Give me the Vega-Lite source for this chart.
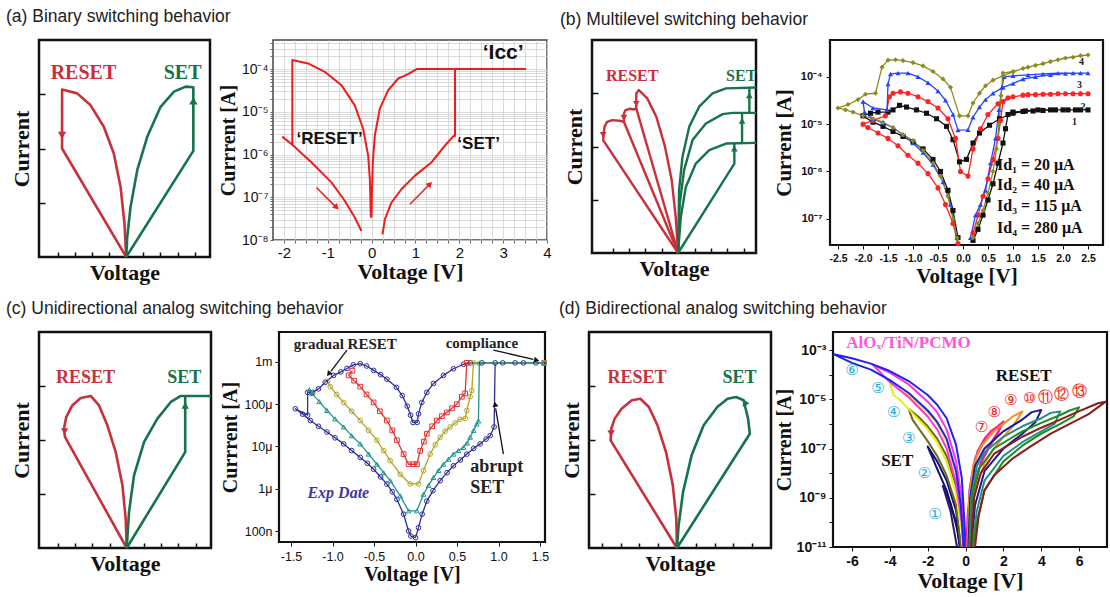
{
"$schema":"https://vega.github.io/schema/vega-lite/v6.json",
"background":"white",
"padding":{"left":6,"top":8,"right":0,"bottom":0},
"config":{"view":{"stroke":"#111","strokeWidth":2.2},"axis":{"domain":false,"labelColor":"#111","titleColor":"#111","tickColor":"#111","grid":false},"line":{"strokeJoin":"round"}},
"datasets":{
"sa_l":[
{"k":"r","c":"r","i":0,"x":0,"y":0},{"k":"r","c":"r","i":1,"x":-0.02,"y":0.154},{"k":"r","c":"r","i":2,"x":-0.066,"y":0.323},{"k":"r","c":"r","i":3,"x":-0.145,"y":0.477},{"k":"r","c":"r","i":4,"x":-0.262,"y":0.6},{"k":"r","c":"r","i":5,"x":-0.418,"y":0.7},{"k":"r","c":"r","i":6,"x":-0.574,"y":0.754},{"k":"r","c":"r","i":7,"x":-0.75,"y":0.772},{"k":"r","c":"r","i":8,"x":-0.75,"y":0.5},{"k":"r","c":"r","i":9,"x":0,"y":0},
{"k":"g","c":"g","i":0,"x":0,"y":0},{"k":"g","c":"g","i":1,"x":0.785,"y":0.489},{"k":"g","c":"g","i":2,"x":0.785,"y":0.782},{"k":"g","c":"g","i":3,"x":0.695,"y":0.785},{"k":"g","c":"g","i":4,"x":0.559,"y":0.762},{"k":"g","c":"g","i":5,"x":0.402,"y":0.692},{"k":"g","c":"g","i":6,"x":0.246,"y":0.554},{"k":"g","c":"g","i":7,"x":0.129,"y":0.4},{"k":"g","c":"g","i":8,"x":0.051,"y":0.231},{"k":"g","c":"g","i":9,"x":0.012,"y":0.092},{"k":"g","c":"g","i":10,"x":0,"y":0}],
"sa_a":[{"c":"r","x":-0.75,"y":0.56,"a":180},{"c":"g","x":0.785,"y":0.72,"a":0}],
"sa_t":[{"c":"r","x":-0.5,"y":0.85,"t":"RESET"},{"c":"g","x":0.66,"y":0.85,"t":"SET"}],
"sb_l":[
{"k":"r1","c":"r","i":0,"x":0,"y":0},{"k":"r1","c":"r","i":1,"x":-0.029,"y":0.169},{"k":"r1","c":"r","i":2,"x":-0.078,"y":0.342},{"k":"r1","c":"r","i":3,"x":-0.159,"y":0.498},{"k":"r1","c":"r","i":4,"x":-0.265,"y":0.639},{"k":"r1","c":"r","i":5,"x":-0.376,"y":0.726},{"k":"r1","c":"r","i":6,"x":-0.478,"y":0.765},{"k":"r1","c":"r","i":7,"x":-0.51,"y":0.749},{"k":"r1","c":"r","i":8,"x":-0.51,"y":0.679},{"k":"r1","c":"r","i":9,"x":-0.539,"y":0.674},{"k":"r1","c":"r","i":10,"x":-0.592,"y":0.677},{"k":"r1","c":"r","i":11,"x":-0.641,"y":0.671},{"k":"r1","c":"r","i":12,"x":-0.661,"y":0.655},{"k":"r1","c":"r","i":13,"x":-0.661,"y":0.616},{"k":"r1","c":"r","i":14,"x":-0.714,"y":0.621},{"k":"r1","c":"r","i":15,"x":-0.804,"y":0.624},{"k":"r1","c":"r","i":16,"x":-0.865,"y":0.616},{"k":"r1","c":"r","i":17,"x":-0.898,"y":0.592},{"k":"r1","c":"r","i":18,"x":-0.914,"y":0.53},{"k":"r1","c":"r","i":19,"x":0,"y":0},
{"k":"r2","c":"r","i":0,"x":0,"y":0},{"k":"r2","c":"r","i":1,"x":-0.51,"y":0.679},
{"k":"r3","c":"r","i":0,"x":0,"y":0},{"k":"r3","c":"r","i":1,"x":-0.661,"y":0.616},
{"k":"g0","c":"g","i":0,"x":0,"y":0},{"k":"g0","c":"g","i":1,"x":0.686,"y":0.42},{"k":"g0","c":"g","i":2,"x":0.686,"y":0.517},
{"k":"g1","c":"g","i":0,"x":0,"y":0},{"k":"g1","c":"g","i":1,"x":0.033,"y":0.169},{"k":"g1","c":"g","i":2,"x":0.094,"y":0.31},{"k":"g1","c":"g","i":3,"x":0.216,"y":0.42},{"k":"g1","c":"g","i":4,"x":0.38,"y":0.483},{"k":"g1","c":"g","i":5,"x":0.584,"y":0.514},{"k":"g1","c":"g","i":6,"x":0.951,"y":0.517},
{"k":"g2v","c":"g","i":0,"x":0.78,"y":0.517},{"k":"g2v","c":"g","i":1,"x":0.78,"y":0.658},
{"k":"g2","c":"g","i":0,"x":0,"y":0},{"k":"g2","c":"g","i":1,"x":0.02,"y":0.232},{"k":"g2","c":"g","i":2,"x":0.073,"y":0.389},{"k":"g2","c":"g","i":3,"x":0.176,"y":0.53},{"k":"g2","c":"g","i":4,"x":0.339,"y":0.608},{"k":"g2","c":"g","i":5,"x":0.543,"y":0.652},{"k":"g2","c":"g","i":6,"x":0.665,"y":0.658},{"k":"g2","c":"g","i":7,"x":0.951,"y":0.658},
{"k":"g3v","c":"g","i":0,"x":0.869,"y":0.658},{"k":"g3v","c":"g","i":1,"x":0.869,"y":0.777},
{"k":"g3","c":"g","i":0,"x":0,"y":0},{"k":"g3","c":"g","i":1,"x":0.012,"y":0.295},{"k":"g3","c":"g","i":2,"x":0.053,"y":0.451},{"k":"g3","c":"g","i":3,"x":0.135,"y":0.592},{"k":"g3","c":"g","i":4,"x":0.257,"y":0.687},{"k":"g3","c":"g","i":5,"x":0.42,"y":0.749},{"k":"g3","c":"g","i":6,"x":0.584,"y":0.773},{"k":"g3","c":"g","i":7,"x":0.951,"y":0.777}],
"sb_a":[{"c":"r","x":-0.51,"y":0.7,"a":180},{"c":"r","x":-0.661,"y":0.635,"a":180},{"c":"r","x":-0.914,"y":0.555,"a":180},{"c":"g","x":0.686,"y":0.49,"a":0},{"c":"g","x":0.78,"y":0.62,"a":0},{"c":"g","x":0.869,"y":0.74,"a":0}],
"sb_t":[{"c":"r","x":-0.56,"y":0.83,"t":"RESET"},{"c":"g","x":0.77,"y":0.83,"t":"SET"}],
"sc_l":[
{"k":"r","c":"r","i":0,"x":0,"y":0},{"k":"r","c":"r","i":1,"x":-0.012,"y":0.136},{"k":"r","c":"r","i":2,"x":-0.05,"y":0.29},{"k":"r","c":"r","i":3,"x":-0.128,"y":0.444},{"k":"r","c":"r","i":4,"x":-0.225,"y":0.568},{"k":"r","c":"r","i":5,"x":-0.322,"y":0.66},{"k":"r","c":"r","i":6,"x":-0.419,"y":0.704},{"k":"r","c":"r","i":7,"x":-0.536,"y":0.694},{"k":"r","c":"r","i":8,"x":-0.633,"y":0.66},{"k":"r","c":"r","i":9,"x":-0.703,"y":0.606},{"k":"r","c":"r","i":10,"x":-0.73,"y":0.552},{"k":"r","c":"r","i":11,"x":-0.718,"y":0.514},{"k":"r","c":"r","i":12,"x":0,"y":0},
{"k":"g","c":"g","i":0,"x":0,"y":0},{"k":"g","c":"g","i":1,"x":0.68,"y":0.444},{"k":"g","c":"g","i":2,"x":0.68,"y":0.704},
{"k":"g2","c":"g","i":0,"x":0,"y":0},{"k":"g2","c":"g","i":1,"x":0.027,"y":0.167},{"k":"g2","c":"g","i":2,"x":0.085,"y":0.336},{"k":"g2","c":"g","i":3,"x":0.202,"y":0.491},{"k":"g2","c":"g","i":4,"x":0.357,"y":0.599},{"k":"g2","c":"g","i":5,"x":0.513,"y":0.676},{"k":"g2","c":"g","i":6,"x":0.629,"y":0.704},{"k":"g2","c":"g","i":7,"x":0.979,"y":0.704}],
"sc_a":[{"c":"r","x":-0.722,"y":0.54,"a":180},{"c":"g","x":0.68,"y":0.66,"a":0}],
"sc_t":[{"c":"r","x":-0.48,"y":0.785,"t":"RESET"},{"c":"g","x":0.67,"y":0.785,"t":"SET"}],
"sd_l":[
{"k":"r","c":"r","i":0,"x":0,"y":0},{"k":"r","c":"r","i":1,"x":-0.007,"y":0.136},{"k":"r","c":"r","i":2,"x":-0.044,"y":0.29},{"k":"r","c":"r","i":3,"x":-0.116,"y":0.444},{"k":"r","c":"r","i":4,"x":-0.207,"y":0.568},{"k":"r","c":"r","i":5,"x":-0.298,"y":0.653},{"k":"r","c":"r","i":6,"x":-0.389,"y":0.691},{"k":"r","c":"r","i":7,"x":-0.48,"y":0.684},{"k":"r","c":"r","i":8,"x":-0.589,"y":0.645},{"k":"r","c":"r","i":9,"x":-0.662,"y":0.599},{"k":"r","c":"r","i":10,"x":-0.698,"y":0.552},{"k":"r","c":"r","i":11,"x":-0.705,"y":0.498},{"k":"r","c":"r","i":12,"x":0,"y":0},
{"k":"g","c":"g","i":0,"x":0,"y":0},{"k":"g","c":"g","i":1,"x":0.775,"y":0.529},{"k":"g","c":"g","i":2,"x":0.756,"y":0.599},{"k":"g","c":"g","i":3,"x":0.709,"y":0.684},{"k":"g","c":"g","i":4,"x":0.629,"y":0.699},{"k":"g","c":"g","i":5,"x":0.538,"y":0.691},{"k":"g","c":"g","i":6,"x":0.429,"y":0.653},{"k":"g","c":"g","i":7,"x":0.284,"y":0.568},{"k":"g","c":"g","i":8,"x":0.156,"y":0.429},{"k":"g","c":"g","i":9,"x":0.065,"y":0.259},{"k":"g","c":"g","i":10,"x":0.018,"y":0.105},{"k":"g","c":"g","i":11,"x":0,"y":0}],
"sd_a":[{"c":"r","x":-0.7,"y":0.53,"a":180},{"c":"g","x":0.72,"y":0.675,"a":-25}],
"sd_t":[{"c":"r","x":-0.425,"y":0.785,"t":"RESET"},{"c":"g","x":0.665,"y":0.785,"t":"SET"}],
"pa":[
{"i":0,"x":0.248,"y":1.36e-8},{"i":1,"x":0.302,"y":3.06e-8},{"i":2,"x":0.454,"y":7.55e-8},{"i":3,"x":0.683,"y":1.56e-7},{"i":4,"x":0.988,"y":3.21e-7},{"i":5,"x":1.369,"y":6.61e-7},{"i":6,"x":1.674,"y":1.63e-6},{"i":7,"x":1.864,"y":2.7e-6},{"i":8,"x":1.902,"y":2.7e-6},{"i":9,"x":1.902,"y":1e-4},{"i":10,"x":3.503,"y":1e-4},{"i":11,"x":1.026,"y":1e-4},{"i":12,"x":0.82,"y":7.5e-5},{"i":13,"x":0.607,"y":6.03e-5},{"i":14,"x":0.378,"y":3.21e-5},{"i":15,"x":0.187,"y":1.19e-5},{"i":16,"x":0.073,"y":2.8e-6},{"i":17,"x":0.027,"y":6.61e-7},{"i":18,"x":0.005,"y":1.08e-7},{"i":19,"x":-0.003,"y":3.5e-8},{"i":20,"x":-0.018,"y":3.5e-8},{"i":21,"x":-0.041,"y":2.67e-7},{"i":22,"x":-0.079,"y":9.46e-7},{"i":23,"x":-0.194,"y":4.02e-6},{"i":24,"x":-0.384,"y":1.42e-5},{"i":25,"x":-0.689,"y":4.21e-5},{"i":26,"x":-1.07,"y":8.65e-5},{"i":27,"x":-1.451,"y":1.36e-4},{"i":28,"x":-1.809,"y":1.63e-4},{"i":29,"x":-1.809,"y":1.69e-6},{"i":30,"x":-2.023,"y":2.56e-6},{"i":31,"x":-1.809,"y":1.69e-6},{"i":32,"x":-1.375,"y":6.61e-7},{"i":33,"x":-0.918,"y":2.23e-7},{"i":34,"x":-0.613,"y":8.28e-8},{"i":35,"x":-0.384,"y":3.35e-8},{"i":36,"x":-0.232,"y":1.63e-8}],
"pb":[
{"s":"1","i":0,"x":0.2,"y":3.5e-8},{"s":"1","i":1,"x":0.3,"y":6e-8},{"s":"1","i":2,"x":0.4,"y":1.2e-7},{"s":"1","i":3,"x":0.5,"y":2.5e-7},{"s":"1","i":4,"x":0.6,"y":5.5e-7},{"s":"1","i":5,"x":0.7,"y":1.5e-6},{"s":"1","i":6,"x":0.8,"y":4e-6},{"s":"1","i":7,"x":0.85,"y":8e-6},{"s":"1","i":8,"x":0.9,"y":1.6e-5},{"s":"1","i":9,"x":1.0,"y":1.8e-5},{"s":"1","i":10,"x":1.25,"y":1.9e-5},{"s":"1","i":11,"x":1.5,"y":2e-5},{"s":"1","i":12,"x":1.75,"y":2e-5},{"s":"1","i":13,"x":2.0,"y":2e-5},{"s":"1","i":14,"x":2.25,"y":2e-5},{"s":"1","i":15,"x":2.5,"y":2e-5},{"s":"1","i":16,"x":2.35,"y":2e-5},{"s":"1","i":17,"x":2.1,"y":2e-5},{"s":"1","i":18,"x":1.85,"y":2e-5},{"s":"1","i":19,"x":1.6,"y":1.95e-5},{"s":"1","i":20,"x":1.4,"y":1.9e-5},{"s":"1","i":21,"x":1.2,"y":1.85e-5},{"s":"1","i":22,"x":1.0,"y":1.7e-5},{"s":"1","i":23,"x":0.73,"y":1.3e-5},{"s":"1","i":24,"x":0.53,"y":9.5e-6},{"s":"1","i":25,"x":0.33,"y":6.5e-6},{"s":"1","i":26,"x":0.2,"y":4e-6},{"s":"1","i":27,"x":0.07,"y":1.8e-6},{"s":"1","i":28,"x":-0.07,"y":1.6e-6},{"s":"1","i":29,"x":-0.2,"y":4.7e-6},{"s":"1","i":30,"x":-0.33,"y":9e-6},{"s":"1","i":31,"x":-0.53,"y":1.3e-5},{"s":"1","i":32,"x":-0.73,"y":1.7e-5},{"s":"1","i":33,"x":-0.93,"y":2e-5},{"s":"1","i":34,"x":-1.13,"y":2.3e-5},{"s":"1","i":35,"x":-1.27,"y":2.5e-5},{"s":"1","i":36,"x":-1.4,"y":2e-5},{"s":"1","i":37,"x":-1.5,"y":1.8e-5},{"s":"1","i":38,"x":-1.7,"y":1.8e-5},{"s":"1","i":39,"x":-1.85,"y":1.7e-5},{"s":"1","i":40,"x":-2.0,"y":1.5e-5},{"s":"1","i":41,"x":-1.8,"y":1.1e-5},{"s":"1","i":42,"x":-1.6,"y":9e-6},{"s":"1","i":43,"x":-1.4,"y":7e-6},{"s":"1","i":44,"x":-1.2,"y":5.5e-6},{"s":"1","i":45,"x":-1.0,"y":4.2e-6},{"s":"1","i":46,"x":-0.8,"y":3e-6},{"s":"1","i":47,"x":-0.6,"y":1.8e-6},{"s":"1","i":48,"x":-0.45,"y":1e-6},{"s":"1","i":49,"x":-0.3,"y":4e-7},{"s":"1","i":50,"x":-0.2,"y":1.5e-7},{"s":"1","i":51,"x":-0.1,"y":4e-8},
{"s":"2","i":0,"x":0.2,"y":5e-8},{"s":"2","i":1,"x":0.3,"y":1.2e-7},{"s":"2","i":2,"x":0.4,"y":3e-7},{"s":"2","i":3,"x":0.5,"y":7e-7},{"s":"2","i":4,"x":0.6,"y":1.8e-6},{"s":"2","i":5,"x":0.7,"y":5e-6},{"s":"2","i":6,"x":0.75,"y":1.2e-5},{"s":"2","i":7,"x":0.8,"y":3e-5},{"s":"2","i":8,"x":1.0,"y":3.8e-5},{"s":"2","i":9,"x":1.3,"y":4.2e-5},{"s":"2","i":10,"x":1.6,"y":4.3e-5},{"s":"2","i":11,"x":1.9,"y":4.4e-5},{"s":"2","i":12,"x":2.2,"y":4.4e-5},{"s":"2","i":13,"x":2.5,"y":4.4e-5},{"s":"2","i":14,"x":2.35,"y":4.4e-5},{"s":"2","i":15,"x":2.05,"y":4.4e-5},{"s":"2","i":16,"x":1.75,"y":4.3e-5},{"s":"2","i":17,"x":1.45,"y":4.2e-5},{"s":"2","i":18,"x":1.2,"y":4.1e-5},{"s":"2","i":19,"x":0.9,"y":3.6e-5},{"s":"2","i":20,"x":0.7,"y":2.7e-5},{"s":"2","i":21,"x":0.5,"y":1.6e-5},{"s":"2","i":22,"x":0.35,"y":8e-6},{"s":"2","i":23,"x":0.2,"y":3e-6},{"s":"2","i":24,"x":0.1,"y":8e-7},{"s":"2","i":25,"x":-0.05,"y":1e-6},{"s":"2","i":26,"x":-0.15,"y":5e-6},{"s":"2","i":27,"x":-0.3,"y":1.3e-5},{"s":"2","i":28,"x":-0.5,"y":2.2e-5},{"s":"2","i":29,"x":-0.7,"y":3e-5},{"s":"2","i":30,"x":-0.9,"y":3.8e-5},{"s":"2","i":31,"x":-1.1,"y":4.5e-5},{"s":"2","i":32,"x":-1.25,"y":4.8e-5},{"s":"2","i":33,"x":-1.4,"y":4.5e-5},{"s":"2","i":34,"x":-1.47,"y":3.8e-5},{"s":"2","i":35,"x":-1.55,"y":1.5e-5},{"s":"2","i":36,"x":-1.8,"y":1.2e-5},{"s":"2","i":37,"x":-2.0,"y":1e-5},{"s":"2","i":38,"x":-1.9,"y":8.5e-6},{"s":"2","i":39,"x":-1.7,"y":6.5e-6},{"s":"2","i":40,"x":-1.5,"y":5e-6},{"s":"2","i":41,"x":-1.3,"y":3.5e-6},{"s":"2","i":42,"x":-1.1,"y":2.2e-6},{"s":"2","i":43,"x":-0.9,"y":1.5e-6},{"s":"2","i":44,"x":-0.7,"y":9e-7},{"s":"2","i":45,"x":-0.5,"y":4.5e-7},{"s":"2","i":46,"x":-0.35,"y":2e-7},{"s":"2","i":47,"x":-0.2,"y":8e-8},{"s":"2","i":48,"x":-0.1,"y":3e-8},
{"s":"3","i":0,"x":0.15,"y":4e-8},{"s":"3","i":1,"x":0.25,"y":1.2e-7},{"s":"3","i":2,"x":0.35,"y":2e-7},{"s":"3","i":3,"x":0.45,"y":4e-7},{"s":"3","i":4,"x":0.55,"y":1.5e-6},{"s":"3","i":5,"x":0.65,"y":5e-6},{"s":"3","i":6,"x":0.72,"y":2e-5},{"s":"3","i":7,"x":0.78,"y":6e-5},{"s":"3","i":8,"x":0.82,"y":1e-4},{"s":"3","i":9,"x":1.0,"y":1.05e-4},{"s":"3","i":10,"x":1.3,"y":1.1e-4},{"s":"3","i":11,"x":1.6,"y":1.15e-4},{"s":"3","i":12,"x":1.9,"y":1.2e-4},{"s":"3","i":13,"x":2.2,"y":1.2e-4},{"s":"3","i":14,"x":2.5,"y":1.2e-4},{"s":"3","i":15,"x":2.35,"y":1.2e-4},{"s":"3","i":16,"x":2.05,"y":1.18e-4},{"s":"3","i":17,"x":1.75,"y":1.1e-4},{"s":"3","i":18,"x":1.45,"y":1e-4},{"s":"3","i":19,"x":1.2,"y":9e-5},{"s":"3","i":20,"x":1.0,"y":7.2e-5},{"s":"3","i":21,"x":0.8,"y":6e-5},{"s":"3","i":22,"x":0.6,"y":4.5e-5},{"s":"3","i":23,"x":0.45,"y":3.3e-5},{"s":"3","i":24,"x":0.33,"y":2.3e-5},{"s":"3","i":25,"x":0.2,"y":1.4e-5},{"s":"3","i":26,"x":0.1,"y":7.6e-6},{"s":"3","i":27,"x":-0.1,"y":7.5e-6},{"s":"3","i":28,"x":-0.2,"y":1.6e-5},{"s":"3","i":29,"x":-0.35,"y":3.2e-5},{"s":"3","i":30,"x":-0.5,"y":5e-5},{"s":"3","i":31,"x":-0.7,"y":7.5e-5},{"s":"3","i":32,"x":-0.9,"y":1e-4},{"s":"3","i":33,"x":-1.1,"y":1.2e-4},{"s":"3","i":34,"x":-1.3,"y":1.2e-4},{"s":"3","i":35,"x":-1.45,"y":1.15e-4},{"s":"3","i":36,"x":-1.5,"y":7e-5},{"s":"3","i":37,"x":-1.52,"y":2e-5},{"s":"3","i":38,"x":-1.8,"y":2.2e-5},{"s":"3","i":39,"x":-2.0,"y":3e-5},{"s":"3","i":40,"x":-1.97,"y":1.8e-5},{"s":"3","i":41,"x":-1.8,"y":1.3e-5},{"s":"3","i":42,"x":-1.6,"y":1.05e-5},{"s":"3","i":43,"x":-1.4,"y":8.5e-6},{"s":"3","i":44,"x":-1.2,"y":6e-6},{"s":"3","i":45,"x":-1.0,"y":4e-6},{"s":"3","i":46,"x":-0.8,"y":2.5e-6},{"s":"3","i":47,"x":-0.6,"y":1.4e-6},{"s":"3","i":48,"x":-0.4,"y":6e-7},{"s":"3","i":49,"x":-0.25,"y":2e-7},{"s":"3","i":50,"x":-0.12,"y":4e-8},
{"s":"4","i":0,"x":0.2,"y":4e-8},{"s":"4","i":1,"x":0.3,"y":8e-8},{"s":"4","i":2,"x":0.4,"y":1.5e-7},{"s":"4","i":3,"x":0.5,"y":3.5e-7},{"s":"4","i":4,"x":0.6,"y":1e-6},{"s":"4","i":5,"x":0.67,"y":3e-6},{"s":"4","i":6,"x":0.72,"y":1e-5},{"s":"4","i":7,"x":0.76,"y":4e-5},{"s":"4","i":8,"x":0.8,"y":1.2e-4},{"s":"4","i":9,"x":1.0,"y":1.3e-4},{"s":"4","i":10,"x":1.3,"y":1.6e-4},{"s":"4","i":11,"x":1.6,"y":1.9e-4},{"s":"4","i":12,"x":1.9,"y":2.3e-4},{"s":"4","i":13,"x":2.2,"y":2.6e-4},{"s":"4","i":14,"x":2.5,"y":2.9e-4},{"s":"4","i":15,"x":2.35,"y":2.8e-4},{"s":"4","i":16,"x":2.05,"y":2.5e-4},{"s":"4","i":17,"x":1.75,"y":2.1e-4},{"s":"4","i":18,"x":1.45,"y":1.75e-4},{"s":"4","i":19,"x":1.2,"y":1.5e-4},{"s":"4","i":20,"x":1.0,"y":1.27e-4},{"s":"4","i":21,"x":0.8,"y":1.05e-4},{"s":"4","i":22,"x":0.6,"y":8.5e-5},{"s":"4","i":23,"x":0.45,"y":6.5e-5},{"s":"4","i":24,"x":0.33,"y":4.5e-5},{"s":"4","i":25,"x":0.2,"y":2.8e-5},{"s":"4","i":26,"x":0.1,"y":1.5e-5},{"s":"4","i":27,"x":-0.07,"y":1.5e-5},{"s":"4","i":28,"x":-0.25,"y":6e-5},{"s":"4","i":29,"x":-0.4,"y":9e-5},{"s":"4","i":30,"x":-0.6,"y":1.3e-4},{"s":"4","i":31,"x":-0.8,"y":1.7e-4},{"s":"4","i":32,"x":-1.0,"y":2e-4},{"s":"4","i":33,"x":-1.2,"y":2.2e-4},{"s":"4","i":34,"x":-1.35,"y":2.3e-4},{"s":"4","i":35,"x":-1.5,"y":2.25e-4},{"s":"4","i":36,"x":-1.62,"y":1.6e-4},{"s":"4","i":37,"x":-1.75,"y":4.5e-5},{"s":"4","i":38,"x":-1.95,"y":4.3e-5},{"s":"4","i":39,"x":-2.1,"y":3.3e-5},{"s":"4","i":40,"x":-2.3,"y":2.6e-5},{"s":"4","i":41,"x":-2.5,"y":2.2e-5},{"s":"4","i":42,"x":-2.35,"y":2e-5},{"s":"4","i":43,"x":-2.2,"y":1.8e-5},{"s":"4","i":44,"x":-2.0,"y":1.5e-5},{"s":"4","i":45,"x":-1.8,"y":1.3e-5},{"s":"4","i":46,"x":-1.6,"y":1.1e-5},{"s":"4","i":47,"x":-1.4,"y":8.5e-6},{"s":"4","i":48,"x":-1.2,"y":6e-6},{"s":"4","i":49,"x":-1.0,"y":4.5e-6},{"s":"4","i":50,"x":-0.8,"y":2.8e-6},{"s":"4","i":51,"x":-0.6,"y":1.5e-6},{"s":"4","i":52,"x":-0.45,"y":8e-7},{"s":"4","i":53,"x":-0.3,"y":3e-7},{"s":"4","i":54,"x":-0.2,"y":1e-7},{"s":"4","i":55,"x":-0.12,"y":4e-8}],
"pc":[
{"s":"N","i":0,"x":1.55,"y":9.5e-4},{"s":"N","i":1,"x":1.3,"y":9.5e-4},{"s":"N","i":2,"x":1.05,"y":9.5e-4},{"s":"N","i":3,"x":0.8,"y":9.5e-4},{"s":"N","i":4,"x":0.66,"y":9.5e-4},{"s":"N","i":5,"x":0.578,"y":8.8e-4},{"s":"N","i":6,"x":0.457,"y":6.9e-4},{"s":"N","i":7,"x":0.337,"y":4.8e-4},{"s":"N","i":8,"x":0.217,"y":3.1e-4},{"s":"N","i":9,"x":0.136,"y":1.9e-4},{"s":"N","i":10,"x":0.076,"y":1.1e-4},{"s":"N","i":11,"x":0.036,"y":5.9e-5},{"s":"N","i":12,"x":0.02,"y":3.7e-5},{"s":"N","i":13,"x":-0.03,"y":3.7e-5},{"s":"N","i":14,"x":-0.06,"y":5.5e-5},{"s":"N","i":15,"x":-0.1,"y":9e-5},{"s":"N","i":16,"x":-0.16,"y":1.6e-4},{"s":"N","i":17,"x":-0.23,"y":2.5e-4},{"s":"N","i":18,"x":-0.345,"y":3.9e-4},{"s":"N","i":19,"x":-0.42,"y":5e-4},{"s":"N","i":20,"x":-0.505,"y":6.3e-4},{"s":"N","i":21,"x":-0.59,"y":8e-4},{"s":"N","i":22,"x":-0.666,"y":9.1e-4},{"s":"N","i":23,"x":-0.75,"y":8.5e-4},{"s":"N","i":24,"x":-0.826,"y":7e-4},{"s":"N","i":25,"x":-0.9,"y":5.8e-4},{"s":"N","i":26,"x":-0.987,"y":4.8e-4},{"s":"N","i":27,"x":-1.087,"y":3.3e-4},{"s":"N","i":28,"x":-1.17,"y":2.3e-4},{"s":"N","i":29,"x":-1.24,"y":1.9e-4},{"s":"N","i":30,"x":-1.3,"y":1.9e-4},{"s":"N","i":31,"x":-1.3,"y":5.5e-5},{"s":"N","i":32,"x":-1.448,"y":7.8e-5},{"s":"N","i":33,"x":-1.36,"y":5.8e-5},{"s":"N","i":34,"x":-1.267,"y":4.1e-5},{"s":"N","i":35,"x":-1.17,"y":3e-5},{"s":"N","i":36,"x":-1.067,"y":2.2e-5},{"s":"N","i":37,"x":-0.97,"y":1.6e-5},{"s":"N","i":38,"x":-0.866,"y":1.15e-5},{"s":"N","i":39,"x":-0.77,"y":8e-6},{"s":"N","i":40,"x":-0.666,"y":5.5e-6},{"s":"N","i":41,"x":-0.58,"y":4e-6},{"s":"N","i":42,"x":-0.505,"y":2.9e-6},{"s":"N","i":43,"x":-0.42,"y":1.9e-6},{"s":"N","i":44,"x":-0.345,"y":1.29e-6},{"s":"N","i":45,"x":-0.28,"y":8.5e-7},{"s":"N","i":46,"x":-0.224,"y":5.6e-7},{"s":"N","i":47,"x":-0.144,"y":2.5e-7},{"s":"N","i":48,"x":-0.084,"y":1e-7},{"s":"N","i":49,"x":-0.056,"y":7.6e-8},{"s":"N","i":50,"x":0.0,"y":7e-8},{"s":"N","i":51,"x":0.036,"y":1.2e-7},{"s":"N","i":52,"x":0.08,"y":2.5e-7},{"s":"N","i":53,"x":0.136,"y":5.1e-7},{"s":"N","i":54,"x":0.21,"y":9e-7},{"s":"N","i":55,"x":0.297,"y":1.55e-6},{"s":"N","i":56,"x":0.38,"y":2.4e-6},{"s":"N","i":57,"x":0.457,"y":3.5e-6},{"s":"N","i":58,"x":0.54,"y":4.8e-6},{"s":"N","i":59,"x":0.618,"y":6.6e-6},{"s":"N","i":60,"x":0.7,"y":9e-6},{"s":"N","i":61,"x":0.778,"y":1.15e-5},{"s":"N","i":62,"x":0.85,"y":1.5e-5},{"s":"N","i":63,"x":0.899,"y":1.8e-5},{"s":"N","i":64,"x":0.947,"y":2.9e-5},{"s":"N","i":65,"x":0.959,"y":9.5e-4},{"s":"N","i":66,"x":1.2,"y":9.5e-4},{"s":"N","i":67,"x":1.45,"y":9.5e-4},
{"s":"R","i":0,"x":-0.76,"y":6.2e-4},{"s":"R","i":1,"x":-0.806,"y":4.8e-4},{"s":"R","i":2,"x":-0.74,"y":3.6e-4},{"s":"R","i":3,"x":-0.666,"y":2.6e-4},{"s":"R","i":4,"x":-0.59,"y":1.7e-4},{"s":"R","i":5,"x":-0.505,"y":1.1e-4},{"s":"R","i":6,"x":-0.43,"y":6.8e-5},{"s":"R","i":7,"x":-0.345,"y":4.1e-5},{"s":"R","i":8,"x":-0.28,"y":2.4e-5},{"s":"R","i":9,"x":-0.224,"y":1.4e-5},{"s":"R","i":10,"x":-0.144,"y":6.6e-6},{"s":"R","i":11,"x":-0.084,"y":3.8e-6},{"s":"R","i":12,"x":-0.024,"y":3.8e-6},{"s":"R","i":13,"x":0.016,"y":3.8e-6},{"s":"R","i":14,"x":0.056,"y":7.9e-6},{"s":"R","i":15,"x":0.1,"y":1.3e-5},{"s":"R","i":16,"x":0.136,"y":2e-5},{"s":"R","i":17,"x":0.2,"y":3e-5},{"s":"R","i":18,"x":0.257,"y":4.1e-5},{"s":"R","i":19,"x":0.317,"y":5.2e-5},{"s":"R","i":20,"x":0.377,"y":6.4e-5},{"s":"R","i":21,"x":0.44,"y":8e-5},{"s":"R","i":22,"x":0.497,"y":1e-4},{"s":"R","i":23,"x":0.558,"y":1.5e-4},{"s":"R","i":24,"x":0.598,"y":1.8e-4},{"s":"R","i":25,"x":0.618,"y":9.5e-4},{"s":"R","i":26,"x":1.55,"y":9.5e-4},
{"s":"Y","i":0,"x":-1.06,"y":3.5e-4},{"s":"Y","i":1,"x":-1.027,"y":2.6e-4},{"s":"Y","i":2,"x":-0.95,"y":1.7e-4},{"s":"Y","i":3,"x":-0.866,"y":1.1e-4},{"s":"Y","i":4,"x":-0.77,"y":6.8e-5},{"s":"Y","i":5,"x":-0.666,"y":4.1e-5},{"s":"Y","i":6,"x":-0.565,"y":2.4e-5},{"s":"Y","i":7,"x":-0.465,"y":1.4e-5},{"s":"Y","i":8,"x":-0.385,"y":8e-6},{"s":"Y","i":9,"x":-0.305,"y":4.6e-6},{"s":"Y","i":10,"x":-0.184,"y":2.2e-6},{"s":"Y","i":11,"x":-0.064,"y":1.3e-6},{"s":"Y","i":12,"x":0.036,"y":1.3e-6},{"s":"Y","i":13,"x":0.096,"y":2.7e-6},{"s":"Y","i":14,"x":0.176,"y":6.6e-6},{"s":"Y","i":15,"x":0.237,"y":1.1e-5},{"s":"Y","i":16,"x":0.297,"y":1.65e-5},{"s":"Y","i":17,"x":0.357,"y":2.3e-5},{"s":"Y","i":18,"x":0.417,"y":2.9e-5},{"s":"Y","i":19,"x":0.477,"y":3.6e-5},{"s":"Y","i":20,"x":0.537,"y":4.4e-5},{"s":"Y","i":21,"x":0.6,"y":4.6e-5},{"s":"Y","i":22,"x":0.618,"y":7.1e-5},{"s":"Y","i":23,"x":0.658,"y":1.5e-4},{"s":"Y","i":24,"x":0.678,"y":2.1e-4},{"s":"Y","i":25,"x":0.698,"y":9.5e-4},{"s":"Y","i":26,"x":1.55,"y":9.5e-4},
{"s":"T","i":0,"x":-1.28,"y":2.2e-4},{"s":"T","i":1,"x":-1.247,"y":1.8e-4},{"s":"T","i":2,"x":-1.16,"y":1.15e-4},{"s":"T","i":3,"x":-1.067,"y":7.1e-5},{"s":"T","i":4,"x":-0.97,"y":4.5e-5},{"s":"T","i":5,"x":-0.866,"y":2.9e-5},{"s":"T","i":6,"x":-0.77,"y":1.8e-5},{"s":"T","i":7,"x":-0.666,"y":1.15e-5},{"s":"T","i":8,"x":-0.565,"y":6.6e-6},{"s":"T","i":9,"x":-0.465,"y":3.8e-6},{"s":"T","i":10,"x":-0.385,"y":2.4e-6},{"s":"T","i":11,"x":-0.305,"y":1.55e-6},{"s":"T","i":12,"x":-0.184,"y":6.8e-7},{"s":"T","i":13,"x":-0.084,"y":3e-7},{"s":"T","i":14,"x":0.016,"y":3e-7},{"s":"T","i":15,"x":0.096,"y":7.4e-7},{"s":"T","i":16,"x":0.157,"y":1.2e-6},{"s":"T","i":17,"x":0.217,"y":1.85e-6},{"s":"T","i":18,"x":0.277,"y":2.7e-6},{"s":"T","i":19,"x":0.337,"y":3.8e-6},{"s":"T","i":20,"x":0.397,"y":5e-6},{"s":"T","i":21,"x":0.457,"y":6.6e-6},{"s":"T","i":22,"x":0.518,"y":8e-6},{"s":"T","i":23,"x":0.578,"y":9.5e-6},{"s":"T","i":24,"x":0.62,"y":1.2e-5},{"s":"T","i":25,"x":0.658,"y":1.65e-5},{"s":"T","i":26,"x":0.7,"y":2.4e-5},{"s":"T","i":27,"x":0.738,"y":3.4e-5},{"s":"T","i":28,"x":0.758,"y":4e-5},{"s":"T","i":29,"x":0.77,"y":9.5e-4},{"s":"T","i":30,"x":1.55,"y":9.5e-4}],
"pd":[
{"s":"1","i":0,"x":-0.45,"y":1e-11},{"s":"1","i":1,"x":-0.8,"y":3e-10},{"s":"1","i":2,"x":-1.2,"y":3e-9},{"s":"1","i":3,"x":-0.8,"y":6e-10},{"s":"1","i":4,"x":-0.4,"y":4e-11},{"s":"1","i":5,"x":-0.3,"y":1e-11},
{"s":"2","i":0,"x":-0.3,"y":1e-11},{"s":"2","i":1,"x":-0.5,"y":1e-10},{"s":"2","i":2,"x":-1,"y":2e-9},{"s":"2","i":3,"x":-1.5,"y":1.5e-8},{"s":"2","i":4,"x":-2,"y":1.2e-7},{"s":"2","i":5,"x":-1.5,"y":3e-8},{"s":"2","i":6,"x":-1,"y":5e-9},{"s":"2","i":7,"x":-0.5,"y":3e-10},{"s":"2","i":8,"x":-0.25,"y":1e-11},
{"s":"3","i":0,"x":-0.25,"y":1e-11},{"s":"3","i":1,"x":-0.5,"y":5e-10},{"s":"3","i":2,"x":-1,"y":8e-9},{"s":"3","i":3,"x":-1.5,"y":5e-8},{"s":"3","i":4,"x":-2,"y":2e-7},{"s":"3","i":5,"x":-2.5,"y":7e-7},{"s":"3","i":6,"x":-2.8,"y":1.5e-6},{"s":"3","i":7,"x":-3,"y":4e-6},{"s":"3","i":8,"x":-2.5,"y":2e-6},{"s":"3","i":9,"x":-2,"y":8e-7},{"s":"3","i":10,"x":-1.5,"y":2.5e-7},{"s":"3","i":11,"x":-1,"y":5e-8},{"s":"3","i":12,"x":-0.5,"y":3e-9},{"s":"3","i":13,"x":-0.2,"y":1e-10},{"s":"3","i":14,"x":-0.1,"y":1e-11},
{"s":"4","i":0,"x":-0.15,"y":1e-11},{"s":"4","i":1,"x":-0.2,"y":5e-11},{"s":"4","i":2,"x":-0.5,"y":1.5e-9},{"s":"4","i":3,"x":-1,"y":3e-8},{"s":"4","i":4,"x":-1.5,"y":1.8e-7},{"s":"4","i":5,"x":-2,"y":6e-7},{"s":"4","i":6,"x":-3,"y":4e-6},{"s":"4","i":7,"x":-3.5,"y":1e-5},{"s":"4","i":8,"x":-3.8,"y":1.5e-5},{"s":"4","i":9,"x":-4,"y":4.5e-5},{"s":"4","i":10,"x":-3.5,"y":2.5e-5},{"s":"4","i":11,"x":-3,"y":1.5e-5},{"s":"4","i":12,"x":-2,"y":3e-6},{"s":"4","i":13,"x":-1.5,"y":1e-6},{"s":"4","i":14,"x":-1,"y":2e-7},{"s":"4","i":15,"x":-0.5,"y":1e-8},{"s":"4","i":16,"x":-0.2,"y":3e-10},{"s":"4","i":17,"x":-0.08,"y":1e-11},
{"s":"5","i":0,"x":-0.12,"y":1e-11},{"s":"5","i":1,"x":-0.2,"y":1e-10},{"s":"5","i":2,"x":-0.5,"y":4e-9},{"s":"5","i":3,"x":-1,"y":1e-7},{"s":"5","i":4,"x":-1.5,"y":6e-7},{"s":"5","i":5,"x":-2,"y":2e-6},{"s":"5","i":6,"x":-3,"y":1.2e-5},{"s":"5","i":7,"x":-4,"y":5e-5},{"s":"5","i":8,"x":-4.9,"y":2.5e-4},{"s":"5","i":9,"x":-4,"y":1.2e-4},{"s":"5","i":10,"x":-3,"y":4e-5},{"s":"5","i":11,"x":-2,"y":8e-6},{"s":"5","i":12,"x":-1.5,"y":3e-6},{"s":"5","i":13,"x":-1,"y":6e-7},{"s":"5","i":14,"x":-0.5,"y":3e-8},{"s":"5","i":15,"x":-0.2,"y":1e-9},{"s":"5","i":16,"x":-0.05,"y":1e-11},
{"s":"6","i":0,"x":-0.1,"y":1e-11},{"s":"6","i":1,"x":-0.25,"y":5e-10},{"s":"6","i":2,"x":-0.5,"y":1.2e-8},{"s":"6","i":3,"x":-1,"y":2.5e-7},{"s":"6","i":4,"x":-1.5,"y":1.2e-6},{"s":"6","i":5,"x":-2,"y":3.5e-6},{"s":"6","i":6,"x":-3,"y":1.8e-5},{"s":"6","i":7,"x":-4,"y":6e-5},{"s":"6","i":8,"x":-5,"y":1.6e-4},{"s":"6","i":9,"x":-6,"y":3e-4},{"s":"6","i":10,"x":-6.95,"y":6.7e-4},{"s":"6","i":11,"x":-6,"y":4.6e-4},{"s":"6","i":12,"x":-5,"y":2.8e-4},{"s":"6","i":13,"x":-4,"y":1.4e-4},{"s":"6","i":14,"x":-3,"y":5.5e-5},{"s":"6","i":15,"x":-2,"y":1.5e-5},{"s":"6","i":16,"x":-1.5,"y":6e-6},{"s":"6","i":17,"x":-1,"y":1.7e-6},{"s":"6","i":18,"x":-0.5,"y":1.4e-7},{"s":"6","i":19,"x":-0.2,"y":6.5e-9},{"s":"6","i":20,"x":-0.05,"y":8e-11},{"s":"6","i":21,"x":0,"y":1e-11},
{"s":"7","i":0,"x":0.1,"y":1e-11},{"s":"7","i":1,"x":0.2,"y":2e-9},{"s":"7","i":2,"x":0.5,"y":4e-8},{"s":"7","i":3,"x":1,"y":2e-7},{"s":"7","i":4,"x":1.5,"y":5e-7},{"s":"7","i":5,"x":1.95,"y":1.1e-6},{"s":"7","i":6,"x":1.7,"y":4e-7},{"s":"7","i":7,"x":1.3,"y":1.3e-7},{"s":"7","i":8,"x":0.8,"y":2.5e-8},{"s":"7","i":9,"x":0.4,"y":1.5e-9},{"s":"7","i":10,"x":0.2,"y":1e-11},
{"s":"8","i":0,"x":0.05,"y":1e-11},{"s":"8","i":1,"x":0.1,"y":1.6e-10},{"s":"8","i":2,"x":0.3,"y":6e-9},{"s":"8","i":3,"x":0.63,"y":7.8e-8},{"s":"8","i":4,"x":1,"y":2.5e-7},{"s":"8","i":5,"x":1.33,"y":5e-7},{"s":"8","i":6,"x":1.7,"y":8e-7},{"s":"8","i":7,"x":2.0,"y":1.26e-6},{"s":"8","i":8,"x":1.8,"y":6e-7},{"s":"8","i":9,"x":1.4,"y":2e-7},{"s":"8","i":10,"x":1,"y":6e-8},{"s":"8","i":11,"x":0.6,"y":8e-9},{"s":"8","i":12,"x":0.3,"y":2e-10},{"s":"8","i":13,"x":0.15,"y":1e-11},
{"s":"9","i":0,"x":0.1,"y":1e-11},{"s":"9","i":1,"x":0.2,"y":1e-9},{"s":"9","i":2,"x":0.4,"y":2e-8},{"s":"9","i":3,"x":0.8,"y":1.2e-7},{"s":"9","i":4,"x":1.5,"y":5e-7},{"s":"9","i":5,"x":2,"y":1e-6},{"s":"9","i":6,"x":2.5,"y":2e-6},{"s":"9","i":7,"x":3,"y":3.2e-6},{"s":"9","i":8,"x":2.5,"y":8e-7},{"s":"9","i":9,"x":2,"y":3e-7},{"s":"9","i":10,"x":1.5,"y":1e-7},{"s":"9","i":11,"x":1,"y":2.5e-8},{"s":"9","i":12,"x":0.5,"y":2e-9},{"s":"9","i":13,"x":0.3,"y":1e-10},{"s":"9","i":14,"x":0.2,"y":1e-11},
{"s":"10","i":0,"x":0.15,"y":1e-11},{"s":"10","i":1,"x":0.25,"y":1e-9},{"s":"10","i":2,"x":0.5,"y":2e-8},{"s":"10","i":3,"x":1,"y":1e-7},{"s":"10","i":4,"x":2,"y":5e-7},{"s":"10","i":5,"x":3,"y":1.5e-6},{"s":"10","i":6,"x":3.5,"y":3e-6},{"s":"10","i":7,"x":4,"y":3.7e-6},{"s":"10","i":8,"x":3.7,"y":1.2e-6},{"s":"10","i":9,"x":3,"y":4e-7},{"s":"10","i":10,"x":2,"y":1e-7},{"s":"10","i":11,"x":1,"y":1.2e-8},{"s":"10","i":12,"x":0.5,"y":5e-10},{"s":"10","i":13,"x":0.3,"y":1e-11},
{"s":"11","i":0,"x":0.2,"y":1e-11},{"s":"11","i":1,"x":0.3,"y":1e-9},{"s":"11","i":2,"x":0.6,"y":2e-8},{"s":"11","i":3,"x":1,"y":7e-8},{"s":"11","i":4,"x":2,"y":3e-7},{"s":"11","i":5,"x":3,"y":8e-7},{"s":"11","i":6,"x":4,"y":1.7e-6},{"s":"11","i":7,"x":4.5,"y":2.8e-6},{"s":"11","i":8,"x":5,"y":3.2e-6},{"s":"11","i":9,"x":4.7,"y":1e-6},{"s":"11","i":10,"x":4,"y":5e-7},{"s":"11","i":11,"x":3,"y":1.8e-7},{"s":"11","i":12,"x":2,"y":5e-8},{"s":"11","i":13,"x":1,"y":5e-9},{"s":"11","i":14,"x":0.6,"y":3e-10},{"s":"11","i":15,"x":0.35,"y":1e-11},
{"s":"12","i":0,"x":0.25,"y":1e-11},{"s":"12","i":1,"x":0.35,"y":1e-9},{"s":"12","i":2,"x":0.7,"y":1.5e-8},{"s":"12","i":3,"x":1.5,"y":1e-7},{"s":"12","i":4,"x":3,"y":5e-7},{"s":"12","i":5,"x":4,"y":1.1e-6},{"s":"12","i":6,"x":5,"y":2.3e-6},{"s":"12","i":7,"x":5.5,"y":3.5e-6},{"s":"12","i":8,"x":6,"y":4.7e-6},{"s":"12","i":9,"x":5.7,"y":2e-6},{"s":"12","i":10,"x":5,"y":1e-6},{"s":"12","i":11,"x":4,"y":4e-7},{"s":"12","i":12,"x":3,"y":1.3e-7},{"s":"12","i":13,"x":2,"y":3e-8},{"s":"12","i":14,"x":1,"y":2e-9},{"s":"12","i":15,"x":0.6,"y":1e-10},{"s":"12","i":16,"x":0.4,"y":1e-11},
{"s":"13","i":0,"x":0.3,"y":1e-11},{"s":"13","i":1,"x":0.45,"y":1e-9},{"s":"13","i":2,"x":0.8,"y":1e-8},{"s":"13","i":3,"x":1.5,"y":6e-8},{"s":"13","i":4,"x":3,"y":3e-7},{"s":"13","i":5,"x":4,"y":7e-7},{"s":"13","i":6,"x":5,"y":1.5e-6},{"s":"13","i":7,"x":6,"y":3.3e-6},{"s":"13","i":8,"x":7,"y":6.9e-6},{"s":"13","i":9,"x":7.4,"y":8e-6},{"s":"13","i":10,"x":6.5,"y":2.5e-6},{"s":"13","i":11,"x":5.5,"y":1e-6},{"s":"13","i":12,"x":4.5,"y":4e-7},{"s":"13","i":13,"x":3.5,"y":1.3e-7},{"s":"13","i":14,"x":2.5,"y":4e-8},{"s":"13","i":15,"x":1.5,"y":8e-9},{"s":"13","i":16,"x":1,"y":2e-9},{"s":"13","i":17,"x":0.7,"y":2e-10},{"s":"13","i":18,"x":0.5,"y":1e-11}]
},
"spacing":12,
"resolve":{"scale":{"color":"independent","shape":"independent"}},
"vconcat":[
{"spacing":8,"resolve":{"scale":{"color":"independent","shape":"independent"}},"hconcat":[
 {"title":{"text":"(a) Binary switching behavior","anchor":"start","frame":"bounds","font":"Liberation Sans","fontSize":17.5,"fontWeight":"normal","color":"#222","offset":10,"dx":-3},
  "spacing":5,"resolve":{"scale":{"color":"independent","shape":"independent"}},"hconcat":[
  {"width":171,"height":217,"view":{"stroke":"#111","strokeWidth":2.5},
   "encoding":{"x":{"field":"x","type":"quantitative","scale":{"domain":[-1.02,0.98],"nice":false,"zero":false},"axis":{"title":"Voltage","values":[-0.8,-0.6,-0.4,-0.2,0,0.2,0.4,0.6,0.8],"labels":false,"tickSize":-5,"tickWidth":1.5,"titleFont":"Liberation Serif","titleFontSize":22,"titleFontWeight":"bold","titlePadding":5}},
    "y":{"field":"y","type":"quantitative","scale":{"domain":[0,1],"nice":false},"axis":{"title":"Current","values":[0.25,0.5,0.75],"labels":false,"tickSize":-6,"tickWidth":1.5,"titleFont":"Liberation Serif","titleFontSize":22,"titleFontWeight":"bold","titlePadding":5}}},
   "layer":[
    {"data":{"name":"sa_l"},"mark":{"type":"line","strokeWidth":2.6},"encoding":{"color":{"field":"c","type":"nominal","scale":{"domain":["r","g"],"range":["#c9303b","#16734a"]},"legend":null},"detail":{"field":"k","type":"nominal"},"order":{"field":"i","type":"quantitative"}}},
    {"data":{"name":"sa_a"},"mark":{"type":"point","shape":"triangle-up","filled":true,"size":70,"opacity":1},"encoding":{"color":{"field":"c","type":"nominal","legend":null},"angle":{"field":"a","type":"quantitative","scale":null}}},
    {"data":{"name":"sa_t"},"mark":{"type":"text","font":"Liberation Serif","fontWeight":"bold","fontSize":20},"encoding":{"text":{"field":"t","type":"nominal"},"color":{"field":"c","type":"nominal","legend":null}}}
   ]},
  {"width":274,"height":200,"view":{"stroke":"#444","strokeWidth":1.5},
   "encoding":{"x":{"field":"x","type":"quantitative","scale":{"domain":[-2.25,4.0],"nice":false,"zero":false},"axis":{"title":"Voltage [V]","values":[-2,-1.75,-1.5,-1.25,-1,-0.75,-0.5,-0.25,0,0.25,0.5,0.75,1,1.25,1.5,1.75,2,2.25,2.5,2.75,3,3.25,3.5,3.75,4],"labelExpr":"datum.value % 1 == 0 ? '' + datum.value : ''","labelOverlap":false,"labelFlush":false,"labelFont":"Liberation Sans","labelFontSize":15,"labelPadding":2,"tickSize":3,"tickColor":"#666","grid":true,"gridColor":"#d2d2d2","gridWidth":0.8,"titleFont":"Liberation Serif","titleFontSize":22,"titleFontWeight":"bold","titlePadding":1}},
    "y":{"field":"y","type":"quantitative","scale":{"type":"log","domain":[1e-8,4.8e-4],"nice":false},"axis":{"title":"Currrent [A]","values":[1e-8,2e-8,3e-8,4e-8,5e-8,6e-8,7e-8,8e-8,9e-8,1e-7,2e-7,3e-7,4e-7,5e-7,6e-7,7e-7,8e-7,9e-7,1e-6,2e-6,3e-6,4e-6,5e-6,6e-6,7e-6,8e-6,9e-6,1e-5,2e-5,3e-5,4e-5,5e-5,6e-5,7e-5,8e-5,9e-5,1e-4,2e-4,3e-4,4e-4],"labelExpr":"datum.value == 1e-8 ? '10⁻⁸' : datum.value == 1e-7 ? '10⁻⁷' : datum.value == 1e-6 ? '10⁻⁶' : datum.value == 1e-5 ? '10⁻⁵' : datum.value == 1e-4 ? '10⁻⁴' : ''","labelOverlap":false,"labelFont":"Liberation Sans","labelFontSize":14,"labelPadding":2,"tickSize":3,"tickColor":"#666","grid":true,"gridColor":"#d2d2d2","gridWidth":0.8,"titleFont":"Liberation Serif","titleFontSize":20,"titleFontWeight":"bold","titlePadding":3}}},
   "layer":[
    {"data":{"name":"pa"},"mark":{"type":"line","color":"#ee1c1c","strokeWidth":2},"encoding":{"order":{"field":"i","type":"quantitative"}}},
    {"data":{"values":[{"x":-1.26,"y":1.7e-7,"x2":-0.84,"y2":6.3e-8},{"x":0.873,"y":6.9e-8,"x2":1.29,"y2":1.86e-7}]},"mark":{"type":"rule","color":"#ee1c1c","strokeWidth":1.5},"encoding":{"x2":{"field":"x2"},"y2":{"field":"y2"}}},
    {"data":{"values":[{"x":-0.8,"y":5.75e-8,"a":135},{"x":1.33,"y":2.04e-7,"a":45}]},"mark":{"type":"point","shape":"triangle-up","filled":true,"color":"#ee1c1c","size":45,"opacity":1},"encoding":{"angle":{"field":"a","type":"quantitative","scale":null}}},
    {"data":{"values":[{"x":3.0,"y":2.35e-4,"t":"‘Icc’"}]},"mark":{"type":"text","font":"Liberation Sans","fontWeight":"bold","fontSize":21,"color":"#111"},"encoding":{"text":{"field":"t","type":"nominal"}}},
    {"data":{"values":[{"x":-0.96,"y":2.35e-6,"t":"‘RESET’"},{"x":2.44,"y":1.78e-6,"t":"‘SET’"}]},"mark":{"type":"text","font":"Liberation Sans","fontWeight":"bold","fontSize":17,"color":"#111"},"encoding":{"text":{"field":"t","type":"nominal"}}}
   ]}
 ]},
 {"title":{"text":"(b) Multilevel switching behavior","anchor":"start","frame":"bounds","font":"Liberation Sans","fontSize":17.5,"fontWeight":"normal","color":"#222","offset":10,"dx":-2},
  "spacing":13,"resolve":{"scale":{"color":"independent","shape":"independent"}},"hconcat":[
  {"width":164,"height":213,"view":{"stroke":"#111","strokeWidth":2.5},
   "encoding":{"x":{"field":"x","type":"quantitative","scale":{"domain":[-1.05,0.95],"nice":false,"zero":false},"axis":{"title":"Voltage","values":[-0.8,-0.6,-0.4,-0.2,0,0.2,0.4,0.6,0.8],"labels":false,"tickSize":-5,"tickWidth":1.5,"titleFont":"Liberation Serif","titleFontSize":22,"titleFontWeight":"bold","titlePadding":5}},
    "y":{"field":"y","type":"quantitative","scale":{"domain":[0,1],"nice":false},"axis":{"title":"Current","values":[0.25,0.5,0.75],"labels":false,"tickSize":-6,"tickWidth":1.5,"titleFont":"Liberation Serif","titleFontSize":22,"titleFontWeight":"bold","titlePadding":5}}},
   "layer":[
    {"data":{"name":"sb_l"},"mark":{"type":"line","strokeWidth":2.4},"encoding":{"color":{"field":"c","type":"nominal","scale":{"domain":["r","g"],"range":["#c9303b","#16734a"]},"legend":null},"detail":{"field":"k","type":"nominal"},"order":{"field":"i","type":"quantitative"}}},
    {"data":{"name":"sb_a"},"mark":{"type":"point","shape":"triangle-up","filled":true,"size":45,"opacity":1},"encoding":{"color":{"field":"c","type":"nominal","legend":null},"angle":{"field":"a","type":"quantitative","scale":null}}},
    {"data":{"name":"sb_t"},"mark":{"type":"text","font":"Liberation Serif","fontWeight":"bold","fontSize":16},"encoding":{"text":{"field":"t","type":"nominal"},"color":{"field":"c","type":"nominal","legend":null}}}
   ]},
  {"width":273,"height":205,
   "encoding":{"x":{"field":"x","type":"quantitative","scale":{"domain":[-2.66,2.8],"nice":false,"zero":false},"axis":{"title":"Voltage [V]","values":[-2.5,-2,-1.5,-1,-0.5,0,0.5,1,1.5,2,2.5],"labelExpr":"replace(format(datum.value, '.1f'), '−', '-')","labelOverlap":false,"labelFlush":false,"labelFont":"Liberation Sans","labelFontWeight":"bold","labelFontSize":10.5,"labelPadding":4,"tickSize":4,"titleFont":"Liberation Serif","titleFontSize":21,"titleFontWeight":"bold","titlePadding":2}},
    "y":{"field":"y","type":"quantitative","scale":{"type":"log","domain":[2.8e-8,6e-4],"nice":false},"axis":{"title":"Current [A]","values":[1e-7,1e-6,1e-5,1e-4],"labelExpr":"datum.value == 1e-7 ? '10⁻⁷' : datum.value == 1e-6 ? '10⁻⁶' : datum.value == 1e-5 ? '10⁻⁵' : datum.value == 1e-4 ? '10⁻⁴' : ''","labelOverlap":false,"labelFont":"Liberation Sans","labelFontWeight":"bold","labelFontSize":11,"labelPadding":4,"tickSize":4,"titleFont":"Liberation Serif","titleFontSize":21,"titleFontWeight":"bold","titlePadding":6}}},
   "layer":[
    {"data":{"name":"pb"},"mark":{"type":"line","strokeWidth":1.3},"encoding":{"color":{"field":"s","type":"nominal","scale":{"domain":["1","2","3","4"],"range":["#111111","#ff2222","#2244ff","#8c8c1c"]},"legend":null},"order":{"field":"i","type":"quantitative"}}},
    {"data":{"name":"pb"},"mark":{"type":"point","filled":true,"size":26,"opacity":1},"encoding":{"color":{"field":"s","type":"nominal","legend":null},"shape":{"field":"s","type":"nominal","scale":{"domain":["1","2","3","4"],"range":["square","circle","triangle-up","diamond"]},"legend":null}}},
    {"data":{"values":[{"x":2.37,"y":2.1e-4,"t":"4"},{"x":2.33,"y":6.6e-5,"t":"3"},{"x":2.4,"y":2.3e-5,"t":"2"},{"x":2.23,"y":1.1e-5,"t":"1"}]},"mark":{"type":"text","font":"Liberation Serif","fontWeight":"bold","fontSize":10,"color":"#222"},"encoding":{"text":{"field":"t","type":"nominal"}}},
    {"data":{"values":[{"x":0.68,"y":1.38e-6,"t":"Id₁ = 20 μA"},{"x":0.68,"y":5.2e-7,"t":"Id₂ = 40 μA"},{"x":0.68,"y":1.85e-7,"t":"Id₃ = 115 μA"},{"x":0.68,"y":6.4e-8,"t":"Id₄ = 280 μA"}]},"mark":{"type":"text","align":"left","font":"Liberation Serif","fontWeight":"bold","fontSize":16,"color":"#111"},"encoding":{"text":{"field":"t","type":"nominal"}}}
   ]}
 ]}
]},
{"spacing":9,"resolve":{"scale":{"color":"independent","shape":"independent"}},"hconcat":[
 {"title":{"text":"(c) Unidirectional analog switching behavior","anchor":"start","frame":"bounds","font":"Liberation Sans","fontSize":17.5,"fontWeight":"normal","color":"#222","offset":13,"dx":-3},
  "spacing":5,"resolve":{"scale":{"color":"independent","shape":"independent"}},"hconcat":[
  {"width":172,"height":216,"view":{"stroke":"#111","strokeWidth":2.5},
   "encoding":{"x":{"field":"x","type":"quantitative","scale":{"domain":[-1.02,0.98],"nice":false,"zero":false},"axis":{"title":"Voltage","values":[-0.8,-0.6,-0.4,-0.2,0,0.2,0.4,0.6,0.8],"labels":false,"tickSize":-5,"tickWidth":1.5,"titleFont":"Liberation Serif","titleFontSize":22,"titleFontWeight":"bold","titlePadding":5}},
    "y":{"field":"y","type":"quantitative","scale":{"domain":[0,1],"nice":false},"axis":{"title":"Current","values":[0.25,0.5,0.75],"labels":false,"tickSize":-6,"tickWidth":1.5,"titleFont":"Liberation Serif","titleFontSize":22,"titleFontWeight":"bold","titlePadding":5}}},
   "layer":[
    {"data":{"name":"sc_l"},"mark":{"type":"line","strokeWidth":2.6},"encoding":{"color":{"field":"c","type":"nominal","scale":{"domain":["r","g"],"range":["#c9303b","#16734a"]},"legend":null},"detail":{"field":"k","type":"nominal"},"order":{"field":"i","type":"quantitative"}}},
    {"data":{"name":"sc_a"},"mark":{"type":"point","shape":"triangle-up","filled":true,"size":55,"opacity":1},"encoding":{"color":{"field":"c","type":"nominal","legend":null},"angle":{"field":"a","type":"quantitative","scale":null}}},
    {"data":{"name":"sc_t"},"mark":{"type":"text","font":"Liberation Serif","fontWeight":"bold","fontSize":18},"encoding":{"text":{"field":"t","type":"nominal"},"color":{"field":"c","type":"nominal","legend":null}}}
   ]},
  {"width":266,"height":210,
   "encoding":{"x":{"field":"x","type":"quantitative","scale":{"domain":[-1.645,1.56],"nice":false,"zero":false},"axis":{"title":"Voltage [V]","values":[-1.5,-1,-0.5,0,0.5,1,1.5],"labelExpr":"replace(format(datum.value, '.1f'), '−', '-')","labelOverlap":false,"labelFlush":false,"labelFont":"Liberation Sans","labelFontSize":12.5,"labelPadding":4,"tickSize":4,"titleFont":"Liberation Serif","titleFontSize":20,"titleFontWeight":"bold","titlePadding":2}},
    "y":{"field":"y","type":"quantitative","scale":{"type":"log","domain":[5.5e-8,5.1e-3],"nice":false},"axis":{"title":"Currrent [A]","values":[1e-7,1e-6,1e-5,1e-4,1e-3],"labelExpr":"datum.value == 1e-7 ? '100n' : datum.value == 1e-6 ? '1μ' : datum.value == 1e-5 ? '10μ' : datum.value == 1e-4 ? '100μ' : datum.value == 1e-3 ? '1m' : ''","labelOverlap":false,"labelFont":"Liberation Sans","labelFontSize":12.5,"labelPadding":3,"tickSize":4,"titleFont":"Liberation Serif","titleFontSize":20,"titleFontWeight":"bold","titlePadding":3}}},
   "layer":[
    {"data":{"name":"pc"},"mark":{"type":"line","strokeWidth":1.3},"encoding":{"color":{"field":"s","type":"nominal","scale":{"domain":["N","R","Y","T"],"range":["#2e2e9a","#e33434","#b0a62a","#23968a"]},"legend":null},"order":{"field":"i","type":"quantitative"}}},
    {"data":{"name":"pc"},"mark":{"type":"point","filled":false,"size":22,"strokeWidth":1,"opacity":1},"encoding":{"color":{"field":"s","type":"nominal","legend":null},"shape":{"field":"s","type":"nominal","scale":{"domain":["N","R","Y","T"],"range":["circle","square","circle","triangle-up"]},"legend":null}}},
    {"data":{"values":[{"x":-0.826,"y":1.9e-3,"x2":-1.02,"y2":6e-4},{"x":0.939,"y":1.9e-3,"x2":1.42,"y2":1.15e-3},{"x":1.059,"y":6.6e-6,"x2":0.965,"y2":8e-5}]},"mark":{"type":"rule","color":"#111","strokeWidth":1.3},"encoding":{"x2":{"field":"x2"},"y2":{"field":"y2"}}},
    {"data":{"values":[{"x":-1.047,"y":5.2e-4,"a":218},{"x":1.46,"y":1.1e-3,"a":103},{"x":0.959,"y":1e-4,"a":351}]},"mark":{"type":"point","shape":"triangle-up","filled":true,"color":"#111","size":35,"opacity":1},"encoding":{"angle":{"field":"a","type":"quantitative","scale":null}}},
    {"data":{"values":[{"x":-0.846,"y":2.6e-3,"t":"gradual RESET"},{"x":0.8,"y":2.8e-3,"t":"compliance"}]},"mark":{"type":"text","font":"Liberation Serif","fontWeight":"bold","fontSize":15,"color":"#222"},"encoding":{"text":{"field":"t","type":"nominal"}}},
    {"data":{"values":[{"x":0.66,"y":3.2e-6,"t":"abrupt"},{"x":0.66,"y":1.07e-6,"t":"SET"}]},"mark":{"type":"text","align":"left","font":"Liberation Serif","fontWeight":"bold","fontSize":18,"color":"#222"},"encoding":{"text":{"field":"t","type":"nominal"}}},
    {"data":{"values":[{"x":-0.93,"y":8e-7,"t":"Exp Date"}]},"mark":{"type":"text","font":"Liberation Serif","fontWeight":"bold","fontStyle":"italic","fontSize":16,"color":"#3a3aa0"},"encoding":{"text":{"field":"t","type":"nominal"}}}
   ]}
 ]},
 {"title":{"text":"(d) Bidirectional analog switching behavior","anchor":"start","frame":"bounds","font":"Liberation Sans","fontSize":17.5,"fontWeight":"normal","color":"#222","offset":13,"dx":0},
  "spacing":0,"resolve":{"scale":{"color":"independent","shape":"independent"}},"hconcat":[
  {"width":182,"height":216,"view":{"stroke":"#111","strokeWidth":2.5},
   "encoding":{"x":{"field":"x","type":"quantitative","scale":{"domain":[-0.935,1.0],"nice":false,"zero":false},"axis":{"title":"Voltage","values":[-0.8,-0.6,-0.4,-0.2,0,0.2,0.4,0.6,0.8],"labels":false,"tickSize":-5,"tickWidth":1.5,"titleFont":"Liberation Serif","titleFontSize":22,"titleFontWeight":"bold","titlePadding":5}},
    "y":{"field":"y","type":"quantitative","scale":{"domain":[0,1],"nice":false},"axis":{"title":"Current","values":[0.25,0.5,0.75],"labels":false,"tickSize":-6,"tickWidth":1.5,"titleFont":"Liberation Serif","titleFontSize":22,"titleFontWeight":"bold","titlePadding":5}}},
   "layer":[
    {"data":{"name":"sd_l"},"mark":{"type":"line","strokeWidth":2.6},"encoding":{"color":{"field":"c","type":"nominal","scale":{"domain":["r","g"],"range":["#c9303b","#16734a"]},"legend":null},"detail":{"field":"k","type":"nominal"},"order":{"field":"i","type":"quantitative"}}},
    {"data":{"name":"sd_a"},"mark":{"type":"point","shape":"triangle-up","filled":true,"size":55,"opacity":1},"encoding":{"color":{"field":"c","type":"nominal","legend":null},"angle":{"field":"a","type":"quantitative","scale":null}}},
    {"data":{"name":"sd_t"},"mark":{"type":"text","font":"Liberation Serif","fontWeight":"bold","fontSize":18},"encoding":{"text":{"field":"t","type":"nominal"},"color":{"field":"c","type":"nominal","legend":null}}}
   ]},
  {"width":274,"height":215,
   "encoding":{"x":{"field":"x","type":"quantitative","scale":{"domain":[-7,7.47],"nice":false,"zero":false},"axis":{"title":"Voltage [V]","values":[-6,-4,-2,0,2,4,6],"labelExpr":"'' + datum.value","labelOverlap":false,"labelFlush":false,"labelFont":"Liberation Sans","labelFontWeight":"bold","labelFontSize":14,"labelPadding":3,"tickSize":4,"titleFont":"Liberation Serif","titleFontSize":22,"titleFontWeight":"bold","titlePadding":2}},
    "y":{"field":"y","type":"quantitative","scale":{"type":"log","domain":[1e-11,5.4e-3],"nice":false},"axis":{"title":"Current [A]","values":[1e-11,1e-10,1e-9,1e-8,1e-7,1e-6,1e-5,1e-4,1e-3],"labelExpr":"datum.value == 1e-11 ? '10⁻¹¹' : datum.value == 1e-9 ? '10⁻⁹' : datum.value == 1e-7 ? '10⁻⁷' : datum.value == 1e-5 ? '10⁻⁵' : datum.value == 1e-3 ? '10⁻³' : ''","labelOverlap":false,"labelFont":"Liberation Sans","labelFontWeight":"bold","labelFontSize":14,"labelPadding":3,"tickSize":4,"titleFont":"Liberation Serif","titleFontSize":20,"titleFontWeight":"bold","titlePadding":2}}},
   "layer":[
    {"data":{"name":"pd"},"mark":{"type":"line","strokeWidth":2},"encoding":{"color":{"field":"s","type":"nominal","scale":{"domain":["1","2","3","4","5","6","7","8","9","10","11","12","13"],"range":["#2a1a6e","#10107a","#6b6b10","#ecec10","#ff33dd","#2222ee","#9933ff","#ff1a8c","#ff8c1a","#1a1a99","#2a8a8a","#18901a","#8b1a1a"]},"legend":null},"order":{"field":"i","type":"quantitative"}}},
    {"data":{"values":[{"x":-6.0,"y":1.55e-4,"t":"⑥"},{"x":-4.63,"y":2.8e-5,"t":"⑤"},{"x":-3.79,"y":3e-6,"t":"④"},{"x":-3.0,"y":2.7e-7,"t":"③"},{"x":-2.17,"y":1e-8,"t":"②"},{"x":-1.61,"y":2.1e-10,"t":"①"}]},"mark":{"type":"text","font":"DejaVu Sans","fontSize":15,"color":"#22aadd"},"encoding":{"text":{"field":"t","type":"nominal"}}},
    {"data":{"values":[{"x":0.84,"y":7.2e-7,"t":"⑦"},{"x":1.51,"y":3e-6,"t":"⑧"},{"x":2.39,"y":9.5e-6,"t":"⑨"},{"x":3.39,"y":1.1e-5,"t":"⑩"},{"x":4.23,"y":1.2e-5,"t":"⑪"},{"x":5.05,"y":1.6e-5,"t":"⑫"},{"x":6.0,"y":2.2e-5,"t":"⑬"}]},"mark":{"type":"text","font":"DejaVu Sans","fontSize":15,"color":"#ee2222"},"encoding":{"text":{"field":"t","type":"nominal"}}},
    {"data":{"values":[{"x":3.07,"y":9e-5,"t":"RESET"},{"x":-3.61,"y":3.2e-8,"t":"SET"}]},"mark":{"type":"text","font":"Liberation Serif","fontWeight":"bold","fontSize":17,"color":"#111"},"encoding":{"text":{"field":"t","type":"nominal"}}},
    {"data":{"values":[{"x":-6.3,"y":1.9e-3,"t":"AlOₓ/TiN/PCMO"}]},"mark":{"type":"text","align":"left","font":"Liberation Serif","fontWeight":"bold","fontSize":17,"color":"#ff55e0"},"encoding":{"text":{"field":"t","type":"nominal"}}}
   ]}
 ]}
]}
]
}
